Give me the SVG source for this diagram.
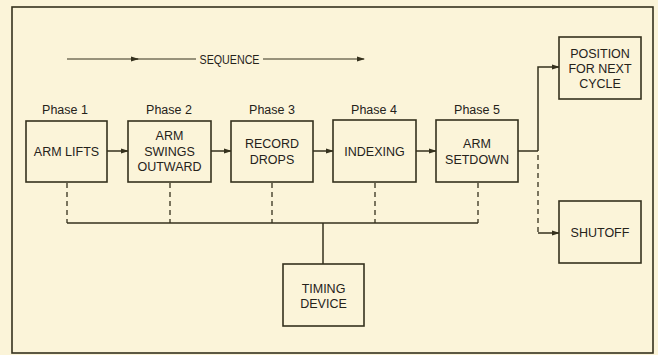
<svg xmlns="http://www.w3.org/2000/svg" width="658" height="355" viewBox="0 0 658 355">
<defs>
<style>
.bg{fill:#fbf4d9}
.box{fill:#fbf4d9;stroke:#35311d;stroke-width:1.6}
.ln{fill:none;stroke:#35311d;stroke-width:1.5}
.dash{fill:none;stroke:#35311d;stroke-width:1.3;stroke-dasharray:5,4}
.thin{fill:none;stroke:#35311d;stroke-width:1}
text{font-family:"Liberation Sans",Arial,sans-serif;font-size:12.5px;fill:#25221a;text-anchor:middle}
.ph{font-size:12.5px}
</style>
<marker id="ah" markerWidth="8" markerHeight="6" refX="7" refY="3" orient="auto" markerUnits="userSpaceOnUse">
<path d="M0,0.5 L8,3 L0,5.5 Z" fill="#35311d"/>
</marker>
</defs>
<rect class="bg" x="0" y="0" width="658" height="355"/>
<rect x="12" y="7" width="641" height="346" fill="none" stroke="#35311d" stroke-width="1.6"/>

<g id="connectors">
<line class="thin" x1="67" y1="59" x2="138" y2="59" marker-end="url(#ah)"/>
<line class="thin" x1="136" y1="59" x2="196" y2="59"/>
<line class="thin" x1="263" y1="59" x2="364" y2="59" marker-end="url(#ah)"/>
<line class="ln" x1="107" y1="151" x2="128" y2="151" marker-end="url(#ah)"/>
<line class="ln" x1="211" y1="151" x2="231" y2="151" marker-end="url(#ah)"/>
<line class="ln" x1="313" y1="151" x2="333" y2="151" marker-end="url(#ah)"/>
<line class="ln" x1="416" y1="151" x2="436" y2="151" marker-end="url(#ah)"/>
<polyline class="ln" points="518,151 538,151"/>
<polyline class="ln" points="538,151 538,67 559,67" marker-end="url(#ah)"/>
<line class="dash" x1="538" y1="155" x2="538" y2="233"/>
<line class="ln" x1="538" y1="233" x2="559" y2="233" marker-end="url(#ah)"/>
<line class="dash" x1="67" y1="183" x2="67" y2="223"/>
<line class="dash" x1="170" y1="183" x2="170" y2="223"/>
<line class="dash" x1="272" y1="183" x2="272" y2="223"/>
<line class="dash" x1="375" y1="183" x2="375" y2="223"/>
<line class="dash" x1="478" y1="183" x2="478" y2="223"/>
<line class="ln" x1="67" y1="223" x2="478" y2="223"/>
<line class="ln" x1="323" y1="223" x2="323" y2="264"/>
</g>

<text x="229.5" y="63.5" textLength="60" lengthAdjust="spacingAndGlyphs">SEQUENCE</text>

<g id="phase1">
<text class="ph" x="65" y="114">Phase 1</text>
<rect class="box" x="26" y="121" width="81" height="61"/>
<text x="66.5" y="155.5">ARM LIFTS</text>
</g>
<g id="phase2">
<text class="ph" x="169" y="114">Phase 2</text>
<rect class="box" x="128" y="121" width="83" height="61"/>
<text x="169.5" y="140">ARM</text>
<text x="169.5" y="156">SWINGS</text>
<text x="169.5" y="171">OUTWARD</text>
</g>
<g id="phase3">
<text class="ph" x="272" y="114">Phase 3</text>
<rect class="box" x="231" y="121" width="82" height="61"/>
<text x="272" y="148">RECORD</text>
<text x="272" y="164">DROPS</text>
</g>
<g id="phase4">
<text class="ph" x="374" y="114">Phase 4</text>
<rect class="box" x="333" y="120" width="83" height="62"/>
<text x="374.5" y="155.5">INDEXING</text>
</g>
<g id="phase5">
<text class="ph" x="477" y="114">Phase 5</text>
<rect class="box" x="436" y="120" width="82" height="62"/>
<text x="477" y="148">ARM</text>
<text x="477" y="164">SETDOWN</text>
</g>
<g id="position">
<rect class="box" x="559" y="37" width="82" height="62"/>
<text x="600" y="58">POSITION</text>
<text x="600" y="73">FOR NEXT</text>
<text x="600" y="88">CYCLE</text>
</g>
<g id="shutoff">
<rect class="box" x="559" y="201" width="82" height="62"/>
<text x="600" y="236.5">SHUTOFF</text>
</g>
<g id="timing">
<rect class="box" x="283" y="264" width="81" height="62"/>
<text x="323.5" y="293">TIMING</text>
<text x="323.5" y="308">DEVICE</text>
</g>
</svg>
